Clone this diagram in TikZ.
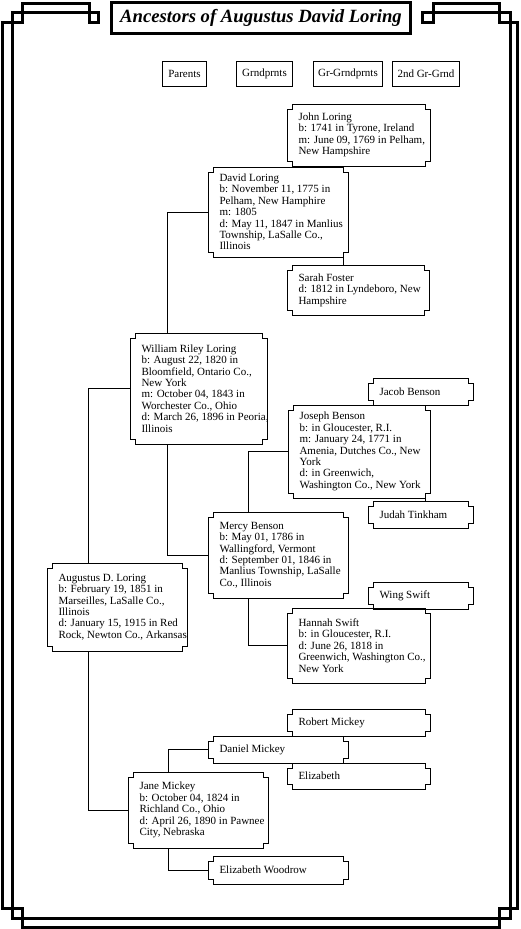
\documentclass[tikz,border=0pt]{standalone}
\usepackage{fontspec}
\setmainfont{Liberation Serif}

\begin{document}
\begin{tikzpicture}[x=1pt, y=-1pt, line width=1pt,
  frame/.style = {line width=3pt, line join=miter},
  head/.style = {draw, anchor=north west, inner sep=0pt, font=\fontsize{11}{11}\selectfont},
  pbox/.style 2 args = {anchor=north west, inner sep=0pt, align=left, minimum height=#2,
    font=\fontsize{11}{11.4}\selectfont,
    append after command={\pgfextra{\draw ([xshift=-11pt,yshift=-5pt]\tikzlastnode.north west)
      -| ([xshift=-6pt]\tikzlastnode.north west) -- ([xshift=#1-16pt]\tikzlastnode.north west)
      |- ([xshift=#1-11pt,yshift=-5pt]\tikzlastnode.north west) -- ([xshift=#1-11pt,yshift=5pt]\tikzlastnode.south west)
      -| ([xshift=#1-16pt]\tikzlastnode.south west) -- ([xshift=-6pt]\tikzlastnode.south west)
      |- ([xshift=-11pt,yshift=5pt]\tikzlastnode.south west) -- cycle;}}}]
\useasboundingbox (0,0) rectangle (520,929);

% page frame
\draw[frame] (98.5,22) -- (98.5,12.5) -- (12.5,12.5) -- (12.5,918.5) -- (510.5,918.5) -- (510.5,12.5)
  -- (422.5,12.5) -- (422.5,22) -- (433,22) -- (433,3) -- (499.5,3) -- (499.5,22) -- (517,22)
  -- (517,908.5) -- (499.5,908.5) -- (499.5,927.5) -- (22.5,927.5) -- (22.5,908.5) -- (2,908.5)
  -- (2,22) -- (22.5,22) -- (22.5,3) -- (89.5,3) -- (89.5,22) -- cycle;

\node[draw, line width=3pt, minimum width=299pt, minimum height=31pt, inner sep=0pt,
  font=\fontsize{18.7}{18.7}\selectfont\bfseries\itshape] (title) at (261,18) {Ancestors of Augustus David Loring};

% generation headings
\node[head, minimum width=44pt, minimum height=25pt] (parents) at (162,61) {Parents};
\node[head, minimum width=56pt, minimum height=25pt] (grand) at (236,61) {Grndprnts};
\node[head, minimum width=69pt, minimum height=25pt] (ggrand) at (313,61) {Gr-Grndprnts};
\node[head, minimum width=67pt, minimum height=25pt] (gggrand) at (392,61) {2nd Gr-Grnd};

% people
\node[pbox={140pt}{87pt}] (augustus) at (58,563) {Augustus D. Loring\\b: February 19, 1851 in\\Marseilles, LaSalle Co.,\\Illinois\\d: January 15, 1915 in Red\\Rock, Newton Co., Arkansas};
\node[pbox={137pt}{110pt}] (william) at (141,333) {William Riley Loring\\b: August 22, 1820 in\\Bloomfield, Ontario Co.,\\New York\\m: October 04, 1843 in\\Worchester Co., Ohio\\d: March 26, 1896 in Peoria,\\Illinois};
\node[pbox={140pt}{75pt}] (jane) at (139,772) {Jane Mickey\\b: October 04, 1824 in\\Richland Co., Ohio\\d: April 26, 1890 in Pawnee\\City, Nebraska};
\node[pbox={140pt}{89pt}] (david) at (219,167) {David Loring\\b: November 11, 1775 in\\Pelham, New Hamphire\\m: 1805\\d: May 11, 1847 in Manlius\\Township, LaSalle Co.,\\Illinois};
\node[pbox={140pt}{85pt}] (mercy) at (219,512) {Mercy Benson\\b: May 01, 1786 in\\Wallingford, Vermont\\d: September 01, 1846 in\\Manlius Township, LaSalle\\Co., Illinois};
\node[pbox={140pt}{26pt}] (daniel) at (219,736) {Daniel Mickey};
\node[pbox={140pt}{27pt}] (woodrow) at (219,856) {Elizabeth Woodrow};
\node[pbox={143pt}{61pt}] (john) at (298,104) {John Loring\\b: 1741 in Tyrone, Ireland\\m: June 09, 1769 in Pelham,\\New Hampshire};
\node[pbox={142pt}{49pt}] (sarah) at (298,265) {Sarah Foster\\d: 1812 in Lyndeboro, New\\Hampshire};
\node[pbox={142pt}{92pt}] (joseph) at (299,405) {Joseph Benson\\b: in Gloucester, R.I.\\m: January 24, 1771 in\\Amenia, Dutches Co., New\\York\\d: in Greenwich,\\Washington Co., New York};
\node[pbox={143pt}{74pt}] (hannah) at (298,608) {Hannah Swift\\b: in Gloucester, R.I.\\d: June 26, 1818 in\\Greenwich, Washington Co.,\\New York};
\node[pbox={143pt}{26pt}] (robert) at (298,709) {Robert Mickey};
\node[pbox={143pt}{25pt}] (elizabeth) at (298,763) {Elizabeth};
\node[pbox={105pt}{26pt}] (jacob) at (379,378) {Jacob Benson};
\node[pbox={105pt}{26pt}] (judah) at (379,501) {Judah Tinkham};
\node[pbox={105pt}{26pt}] (wing) at (379,582) {Wing Swift};

% links
\draw ([xshift=30pt]augustus.north west) |- ([xshift=-11pt]william.west);
\draw ([xshift=30pt]augustus.south west) |- ([xshift=-11pt]jane.west);
\draw ([xshift=26pt]william.north west) |- ([xshift=-11pt]david.west);
\draw ([xshift=26pt]william.south west) |- ([xshift=-11pt]mercy.west);
\draw ([xshift=29pt]mercy.north west) |- ([xshift=-11pt]joseph.west);
\draw ([xshift=29pt]mercy.south west) |- ([xshift=-11pt]hannah.west);
\draw ([xshift=29pt]jane.north west) |- ([xshift=-11pt]daniel.west);
\draw ([xshift=29pt]jane.south west) |- ([xshift=-11pt]woodrow.west);
\draw ([xshift=124pt]david.north west) -- ([xshift=124pt]david.north west |- john.south);
\draw ([xshift=124pt]david.south west) -- ([xshift=124pt]david.south west |- sarah.north);
\draw ([xshift=126pt]joseph.south west) -- ([xshift=126pt]joseph.south west |- judah.north);
\end{tikzpicture}
\end{document}
